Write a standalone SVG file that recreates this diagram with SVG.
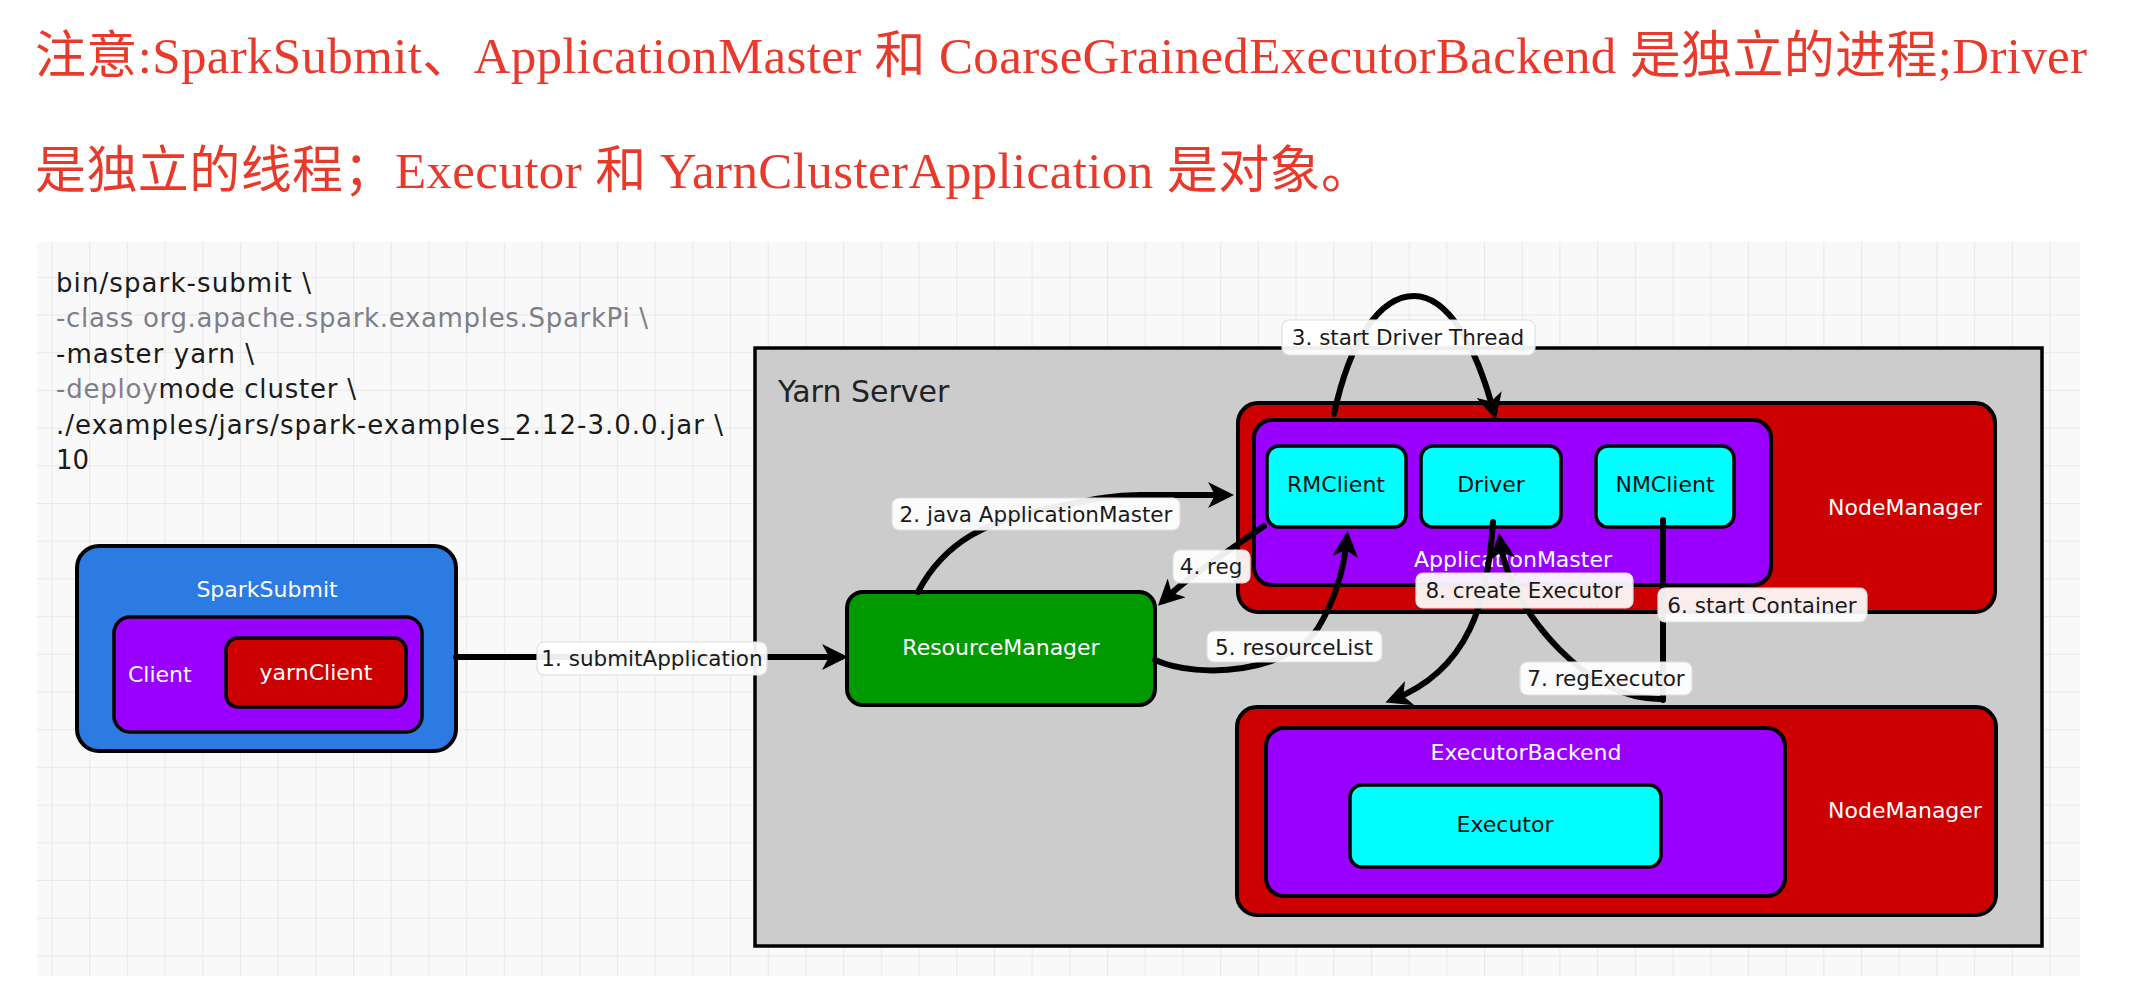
<svg xmlns="http://www.w3.org/2000/svg" width="2134" height="1004" viewBox="0 0 2134 1004">
  <defs>
    <pattern id="grid" x="51.4" y="239.1" width="37.7" height="37.7" patternUnits="userSpaceOnUse">
      <rect width="37.7" height="37.7" fill="#f9f9f9"/>
      <path d="M0.5 0 V37.7 M0 0.5 H37.7" stroke="#e9e9e9" stroke-width="1.2" fill="none"/>
    </pattern>
    <marker id="ah" viewBox="0 0 26 26" refX="19" refY="13" markerWidth="26" markerHeight="26" markerUnits="userSpaceOnUse" orient="auto">
      <path d="M0 0 L26 13 L0 26 L7 13 Z" fill="#000"/>
    </marker>
    <style>
      .note { font-family: "Liberation Serif", "Noto Sans CJK SC", serif; font-size: 51px; fill: #e83a2b; }
      .code { font-family: "DejaVu Sans", sans-serif; font-size: 26px; fill: #1a1a1a; }
      .gray { fill: #7e7e8a; }
      .box { stroke: #000; stroke-width: 4; }
      .inner { stroke: #000; stroke-width: 3.5; }
      .blue { fill: #2b7be2; }
      .purple { fill: #9900ff; }
      .red { fill: #cc0000; }
      .green { fill: #009a00; }
      .cyan { fill: #00ffff; }
      .lbl { font-family: "DejaVu Sans", sans-serif; font-size: 22px; }
      .w { fill: #ffffff; }
      .k { fill: #111111; }
      .mid { text-anchor: middle; }
      .edge { fill: none; stroke: #000; stroke-width: 6; stroke-linecap: round; }
      .tag rect { fill: #ffffff; fill-opacity: 0.93; stroke: #dedede; stroke-width: 1.2; }
      .tag text { font-family: "DejaVu Sans", sans-serif; font-size: 21.5px; fill: #1a1a1a; text-anchor: middle; }
    </style>
  </defs>

  <rect x="0" y="0" width="2134" height="1004" fill="#ffffff"/>

  <g id="note">
    <text class="note" x="35" y="73" textLength="2052" lengthAdjust="spacing">注意:SparkSubmit、ApplicationMaster 和 CoarseGrainedExecutorBackend 是独立的进程;Driver</text>
    <text class="note" x="35" y="188" textLength="1337" lengthAdjust="spacing">是独立的线程；Executor 和 YarnClusterApplication 是对象。</text>
  </g>

  <rect x="37" y="242" width="2043" height="734" fill="url(#grid)"/>

  <g id="command">
    <text class="code" x="56" y="291.5" textLength="255" lengthAdjust="spacing">bin/spark-submit \</text>
    <text class="code gray" x="56" y="327" textLength="592" lengthAdjust="spacing">-class org.apache.spark.examples.SparkPi \</text>
    <text class="code" x="56" y="362.5" textLength="198" lengthAdjust="spacing">-master yarn \</text>
    <text class="code" x="56" y="398" textLength="300" lengthAdjust="spacing"><tspan class="gray">-deploy</tspan>mode cluster \</text>
    <text class="code" x="56" y="433.5" textLength="667" lengthAdjust="spacing">./examples/jars/spark-examples_2.12-3.0.0.jar \</text>
    <text class="code" x="56" y="469">10</text>
  </g>

  <g id="yarn-server">
    <rect x="755" y="348" width="1287" height="598" fill="#cccccc" stroke="#000" stroke-width="3.5"/>
    <text x="778" y="402" font-family="DejaVu Sans, sans-serif" font-size="30" fill="#222">Yarn Server</text>
  </g>

  <g id="spark-submit">
    <rect class="box blue" x="77" y="546" width="379" height="205" rx="22"/>
    <text class="lbl w mid" x="267" y="597">SparkSubmit</text>
  </g>
  <g id="client">
    <rect class="inner purple" x="114" y="617" width="308" height="115" rx="16"/>
    <text class="lbl w" x="128" y="682">Client</text>
  </g>
  <g id="yarn-client">
    <rect class="inner red" x="226" y="638" width="180" height="69" rx="12"/>
    <text class="lbl w mid" x="316" y="680">yarnClient</text>
  </g>

  <g id="resource-manager">
    <rect class="box green" x="847" y="592" width="308" height="113" rx="16"/>
    <text class="lbl w mid" x="1001" y="655">ResourceManager</text>
  </g>

  <g id="node-manager-1">
    <rect class="box red" x="1238" y="403" width="757" height="209" rx="20"/>
    <text class="lbl w mid" x="1905" y="515">NodeManager</text>
  </g>
  <g id="application-master">
    <rect class="box purple" x="1254" y="420" width="517" height="165" rx="18"/>
    <text class="lbl w mid" x="1513" y="567">ApplicationMaster</text>
  </g>
  <g id="rm-client">
    <rect class="inner cyan" x="1267" y="446" width="139" height="81" rx="12"/>
    <text class="lbl k mid" x="1336" y="492">RMClient</text>
  </g>
  <g id="driver">
    <rect class="inner cyan" x="1421" y="446" width="140" height="81" rx="12"/>
    <text class="lbl k mid" x="1491" y="492">Driver</text>
  </g>
  <g id="nm-client">
    <rect class="inner cyan" x="1596" y="446" width="138" height="81" rx="12"/>
    <text class="lbl k mid" x="1665" y="492">NMClient</text>
  </g>

  <g id="node-manager-2">
    <rect class="box red" x="1237" y="707" width="759" height="208" rx="20"/>
    <text class="lbl w mid" x="1905" y="818">NodeManager</text>
  </g>
  <g id="executor-backend">
    <rect class="box purple" x="1266" y="728" width="519" height="168" rx="18"/>
    <text class="lbl w mid" x="1526" y="760">ExecutorBackend</text>
  </g>
  <g id="executor">
    <rect class="inner cyan" x="1350" y="785" width="311" height="82" rx="12"/>
    <text class="lbl k mid" x="1505" y="832">Executor</text>
  </g>

  <g id="connectors">
    <path class="edge" d="M456 657 L841 657" marker-end="url(#ah)"/>
    <path class="edge" d="M918 592 C945 540 990 520 1050 508 C1090 500 1110 495 1140 495 L1227 495" marker-end="url(#ah)"/>
    <path class="edge" d="M1334 414 C1350 340 1380 296 1414 296 C1448 296 1476 345 1494 413" marker-end="url(#ah)"/>
    <path class="edge" d="M1264 526 C1230 550 1190 575 1163 601" marker-end="url(#ah)"/>
    <path class="edge" d="M1155 660 C1200 680 1290 672 1318 628 C1335 600 1344 570 1347 538" marker-end="url(#ah)"/>
    <path class="edge" d="M1663 520 L1663 700"/>
    <path class="edge" d="M1662 699 C1620 700 1585 675 1560 650 C1530 620 1505 580 1500 540" marker-end="url(#ah)"/>
    <path class="edge" d="M1493 522 C1488 600 1470 670 1392 700" marker-end="url(#ah)"/>

    <g class="tag"><rect x="537" y="642" width="230" height="33" rx="7"/><text x="652" y="666">1. submitApplication</text></g>
    <g class="tag"><rect x="892" y="498" width="288" height="32" rx="7"/><text x="1036" y="522">2. java ApplicationMaster</text></g>
    <g class="tag"><rect x="1282" y="320" width="253" height="35" rx="7"/><text x="1408" y="345">3. start Driver Thread</text></g>
    <g class="tag"><rect x="1173" y="550" width="77" height="33" rx="7"/><text x="1211" y="574">4. reg</text></g>
    <g class="tag"><rect x="1207" y="631" width="175" height="31" rx="7"/><text x="1294" y="655">5. resourceList</text></g>
    <g class="tag"><rect x="1658" y="588" width="209" height="34" rx="7"/><text x="1762" y="613">6. start Container</text></g>
    <g class="tag"><rect x="1520" y="662" width="172" height="33" rx="7"/><text x="1606" y="686">7. regExecutor</text></g>
    <g class="tag"><rect x="1416" y="573" width="217" height="35" rx="7"/><text x="1524" y="598">8. create Executor</text></g>
  </g>
</svg>
